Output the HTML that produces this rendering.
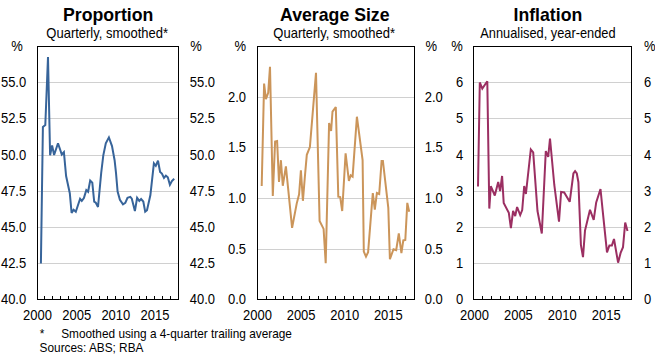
<!DOCTYPE html>
<html><head><meta charset="utf-8"><style>
html,body{margin:0;padding:0;background:#fff;width:655px;height:355px;overflow:hidden}
svg{display:block}
text{font-family:"Liberation Sans",sans-serif;fill:#000}
</style></head><body>
<svg width="655" height="355" viewBox="0 0 655 355">
<g shape-rendering="crispEdges">
<line x1="38" y1="82.5" x2="178" y2="82.5" stroke="#d0d0d0" stroke-width="1"/>
<line x1="38" y1="118.5" x2="178" y2="118.5" stroke="#d0d0d0" stroke-width="1"/>
<line x1="38" y1="155.5" x2="178" y2="155.5" stroke="#d0d0d0" stroke-width="1"/>
<line x1="38" y1="191.5" x2="178" y2="191.5" stroke="#d0d0d0" stroke-width="1"/>
<line x1="38" y1="227.5" x2="178" y2="227.5" stroke="#d0d0d0" stroke-width="1"/>
<line x1="38" y1="263.5" x2="178" y2="263.5" stroke="#d0d0d0" stroke-width="1"/>
<line x1="258" y1="97.5" x2="414" y2="97.5" stroke="#d0d0d0" stroke-width="1"/>
<line x1="258" y1="147.5" x2="414" y2="147.5" stroke="#d0d0d0" stroke-width="1"/>
<line x1="258" y1="198.5" x2="414" y2="198.5" stroke="#d0d0d0" stroke-width="1"/>
<line x1="258" y1="249.5" x2="414" y2="249.5" stroke="#d0d0d0" stroke-width="1"/>
<line x1="474" y1="82.5" x2="631" y2="82.5" stroke="#d0d0d0" stroke-width="1"/>
<line x1="474" y1="118.5" x2="631" y2="118.5" stroke="#d0d0d0" stroke-width="1"/>
<line x1="474" y1="155.5" x2="631" y2="155.5" stroke="#d0d0d0" stroke-width="1"/>
<line x1="474" y1="191.5" x2="631" y2="191.5" stroke="#d0d0d0" stroke-width="1"/>
<line x1="474" y1="227.5" x2="631" y2="227.5" stroke="#d0d0d0" stroke-width="1"/>
<line x1="474" y1="263.5" x2="631" y2="263.5" stroke="#d0d0d0" stroke-width="1"/>
<line x1="44.5" y1="296" x2="44.5" y2="299" stroke="#000" stroke-width="1"/>
<line x1="52.5" y1="296" x2="52.5" y2="299" stroke="#000" stroke-width="1"/>
<line x1="60.5" y1="296" x2="60.5" y2="299" stroke="#000" stroke-width="1"/>
<line x1="68.5" y1="296" x2="68.5" y2="299" stroke="#000" stroke-width="1"/>
<line x1="76.5" y1="296" x2="76.5" y2="299" stroke="#000" stroke-width="1"/>
<line x1="84.5" y1="296" x2="84.5" y2="299" stroke="#000" stroke-width="1"/>
<line x1="91.5" y1="296" x2="91.5" y2="299" stroke="#000" stroke-width="1"/>
<line x1="99.5" y1="296" x2="99.5" y2="299" stroke="#000" stroke-width="1"/>
<line x1="107.5" y1="296" x2="107.5" y2="299" stroke="#000" stroke-width="1"/>
<line x1="115.5" y1="296" x2="115.5" y2="299" stroke="#000" stroke-width="1"/>
<line x1="123.5" y1="296" x2="123.5" y2="299" stroke="#000" stroke-width="1"/>
<line x1="131.5" y1="296" x2="131.5" y2="299" stroke="#000" stroke-width="1"/>
<line x1="139.5" y1="296" x2="139.5" y2="299" stroke="#000" stroke-width="1"/>
<line x1="146.5" y1="296" x2="146.5" y2="299" stroke="#000" stroke-width="1"/>
<line x1="154.5" y1="296" x2="154.5" y2="299" stroke="#000" stroke-width="1"/>
<line x1="162.5" y1="296" x2="162.5" y2="299" stroke="#000" stroke-width="1"/>
<line x1="170.5" y1="296" x2="170.5" y2="299" stroke="#000" stroke-width="1"/>
<rect x="37.5" y="46.5" width="141" height="253" fill="none" stroke="#000" stroke-width="1"/>
<line x1="266.5" y1="296" x2="266.5" y2="299" stroke="#000" stroke-width="1"/>
<line x1="275.5" y1="296" x2="275.5" y2="299" stroke="#000" stroke-width="1"/>
<line x1="283.5" y1="296" x2="283.5" y2="299" stroke="#000" stroke-width="1"/>
<line x1="292.5" y1="296" x2="292.5" y2="299" stroke="#000" stroke-width="1"/>
<line x1="301.5" y1="296" x2="301.5" y2="299" stroke="#000" stroke-width="1"/>
<line x1="309.5" y1="296" x2="309.5" y2="299" stroke="#000" stroke-width="1"/>
<line x1="318.5" y1="296" x2="318.5" y2="299" stroke="#000" stroke-width="1"/>
<line x1="327.5" y1="296" x2="327.5" y2="299" stroke="#000" stroke-width="1"/>
<line x1="335.5" y1="296" x2="335.5" y2="299" stroke="#000" stroke-width="1"/>
<line x1="344.5" y1="296" x2="344.5" y2="299" stroke="#000" stroke-width="1"/>
<line x1="353.5" y1="296" x2="353.5" y2="299" stroke="#000" stroke-width="1"/>
<line x1="362.5" y1="296" x2="362.5" y2="299" stroke="#000" stroke-width="1"/>
<line x1="370.5" y1="296" x2="370.5" y2="299" stroke="#000" stroke-width="1"/>
<line x1="379.5" y1="296" x2="379.5" y2="299" stroke="#000" stroke-width="1"/>
<line x1="388.5" y1="296" x2="388.5" y2="299" stroke="#000" stroke-width="1"/>
<line x1="396.5" y1="296" x2="396.5" y2="299" stroke="#000" stroke-width="1"/>
<line x1="405.5" y1="296" x2="405.5" y2="299" stroke="#000" stroke-width="1"/>
<rect x="257.5" y="46.5" width="157" height="253" fill="none" stroke="#000" stroke-width="1"/>
<line x1="482.5" y1="296" x2="482.5" y2="299" stroke="#000" stroke-width="1"/>
<line x1="491.5" y1="296" x2="491.5" y2="299" stroke="#000" stroke-width="1"/>
<line x1="500.5" y1="296" x2="500.5" y2="299" stroke="#000" stroke-width="1"/>
<line x1="509.5" y1="296" x2="509.5" y2="299" stroke="#000" stroke-width="1"/>
<line x1="517.5" y1="296" x2="517.5" y2="299" stroke="#000" stroke-width="1"/>
<line x1="526.5" y1="296" x2="526.5" y2="299" stroke="#000" stroke-width="1"/>
<line x1="535.5" y1="296" x2="535.5" y2="299" stroke="#000" stroke-width="1"/>
<line x1="544.5" y1="296" x2="544.5" y2="299" stroke="#000" stroke-width="1"/>
<line x1="552.5" y1="296" x2="552.5" y2="299" stroke="#000" stroke-width="1"/>
<line x1="561.5" y1="296" x2="561.5" y2="299" stroke="#000" stroke-width="1"/>
<line x1="570.5" y1="296" x2="570.5" y2="299" stroke="#000" stroke-width="1"/>
<line x1="579.5" y1="296" x2="579.5" y2="299" stroke="#000" stroke-width="1"/>
<line x1="588.5" y1="296" x2="588.5" y2="299" stroke="#000" stroke-width="1"/>
<line x1="596.5" y1="296" x2="596.5" y2="299" stroke="#000" stroke-width="1"/>
<line x1="605.5" y1="296" x2="605.5" y2="299" stroke="#000" stroke-width="1"/>
<line x1="614.5" y1="296" x2="614.5" y2="299" stroke="#000" stroke-width="1"/>
<line x1="623.5" y1="296" x2="623.5" y2="299" stroke="#000" stroke-width="1"/>
<rect x="473.5" y="46.5" width="158" height="253" fill="none" stroke="#000" stroke-width="1"/>
</g>
<polyline points="40.9,263.5 42.9,127.0 45.3,125.0 48.0,57.0 50.1,155.2 52.1,145.4 54.1,155.0 58.0,143.2 61.8,154.5 63.9,152.2 66.1,176.0 69.8,193.2 71.6,212.9 73.6,209.8 75.8,211.8 80.1,198.8 81.8,200.9 83.9,198.1 86.3,190.1 88.1,191.8 90.2,180.6 92.3,182.6 94.2,201.6 95.8,202.7 98.0,207.0 101.2,172.9 103.3,155.3 105.8,143.3 108.9,137.4 112.0,146.1 114.6,160.2 116.0,172.9 117.6,191.5 119.9,199.8 123.0,204.3 125.3,202.9 127.5,197.8 130.3,196.9 131.8,198.7 134.9,211.1 137.1,197.8 139.3,200.9 141.1,199.0 143.3,201.5 145.2,211.7 147.0,210.2 150.4,195.0 153.9,163.4 155.8,165.8 158.0,160.7 160.1,171.9 161.9,173.5 164.0,178.0 165.9,175.7 167.8,177.3 169.9,184.8 171.9,181.0 174.2,178.7" fill="none" stroke="#37649a" stroke-width="2" stroke-linejoin="miter" stroke-miterlimit="3"/>
<polyline points="261.7,186.0 264.1,83.6 265.9,99.1 268.2,92.9 270.0,66.8 272.8,196.0 275.1,141.6 277.1,141.1 279.0,182.0 280.9,160.2 282.8,185.8 285.9,166.4 292.1,227.8 296.7,203.6 299.1,194.3 300.9,170.2 302.9,200.8 304.9,176.4 306.8,154.8 309.9,147.0 316.0,72.8 319.6,221.0 323.6,228.9 325.7,263.2 329.1,123.0 331.1,131.0 332.5,111.6 335.8,107.0 338.3,196.7 340.2,197.0 342.2,211.0 345.6,153.3 348.9,181.0 350.7,175.3 352.6,176.6 356.9,116.7 362.6,160.0 363.8,251.6 366.0,256.6 368.1,252.2 372.8,193.0 374.8,209.7 376.9,193.0 379.2,194.0 381.6,161.0 382.9,161.0 388.3,207.8 389.9,259.1 393.5,249.2 396.2,250.2 398.8,233.5 401.4,253.2 403.3,240.4 405.3,240.0 407.3,202.9 409.2,211.8" fill="none" stroke="#cb955a" stroke-width="2" stroke-linejoin="miter" stroke-miterlimit="3"/>
<polyline points="478.0,186.6 479.8,82.4 482.3,88.6 487.3,81.2 489.3,208.6 490.8,186.2 494.8,195.5 498.2,182.0 500.1,191.0 502.1,176.0 503.7,203.0 508.8,212.7 510.9,228.0 513.1,211.0 515.2,216.0 517.1,207.0 520.2,215.0 522.2,210.0 524.2,186.0 525.9,194.0 530.8,149.5 533.2,152.5 537.5,211.0 541.8,233.5 545.8,151.0 548.2,157.0 550.0,138.5 554.3,185.0 559.0,221.6 561.1,191.9 564.2,192.5 569.7,201.8 573.4,173.5 575.1,171.2 576.8,173.5 578.4,182.2 580.9,244.8 583.0,257.2 585.0,230.6 590.0,209.8 593.7,219.8 596.2,202.4 600.5,189.0 602.6,209.8 607.0,252.3 609.4,245.4 611.9,245.4 614.0,239.0 618.1,262.7 620.6,252.9 623.0,247.2 625.2,222.6 627.5,231.1" fill="none" stroke="#9b2f62" stroke-width="2" stroke-linejoin="miter" stroke-miterlimit="3"/>
<text x="108.2" y="20.6" text-anchor="middle" font-size="17.7" font-weight="bold" >Proportion</text>
<text x="334.8" y="20.6" text-anchor="middle" font-size="17.7" font-weight="bold" >Average Size</text>
<text x="547.9" y="20.6" text-anchor="middle" font-size="17.7" font-weight="bold" >Inflation</text>
<text transform="translate(107.2 37.8) scale(0.935 1)" text-anchor="middle" font-size="13.9" font-weight="normal" >Quarterly, smoothed*</text>
<text transform="translate(334.2 37.8) scale(0.935 1)" text-anchor="middle" font-size="13.9" font-weight="normal" >Quarterly, smoothed*</text>
<text transform="translate(547.9 37.8) scale(0.922 1)" text-anchor="middle" font-size="13.9" font-weight="normal" >Annualised, year-ended</text>
<text transform="translate(26.2 87.2) scale(0.935 1)" text-anchor="end" font-size="13.9" font-weight="normal" >55.0</text>
<text transform="translate(189.7 87.2) scale(0.935 1)" text-anchor="start" font-size="13.9" font-weight="normal" >55.0</text>
<text transform="translate(26.2 123.2) scale(0.935 1)" text-anchor="end" font-size="13.9" font-weight="normal" >52.5</text>
<text transform="translate(189.7 123.2) scale(0.935 1)" text-anchor="start" font-size="13.9" font-weight="normal" >52.5</text>
<text transform="translate(26.2 160.2) scale(0.935 1)" text-anchor="end" font-size="13.9" font-weight="normal" >50.0</text>
<text transform="translate(189.7 160.2) scale(0.935 1)" text-anchor="start" font-size="13.9" font-weight="normal" >50.0</text>
<text transform="translate(26.2 196.2) scale(0.935 1)" text-anchor="end" font-size="13.9" font-weight="normal" >47.5</text>
<text transform="translate(189.7 196.2) scale(0.935 1)" text-anchor="start" font-size="13.9" font-weight="normal" >47.5</text>
<text transform="translate(26.2 232.2) scale(0.935 1)" text-anchor="end" font-size="13.9" font-weight="normal" >45.0</text>
<text transform="translate(189.7 232.2) scale(0.935 1)" text-anchor="start" font-size="13.9" font-weight="normal" >45.0</text>
<text transform="translate(26.2 268.2) scale(0.935 1)" text-anchor="end" font-size="13.9" font-weight="normal" >42.5</text>
<text transform="translate(189.7 268.2) scale(0.935 1)" text-anchor="start" font-size="13.9" font-weight="normal" >42.5</text>
<text transform="translate(26.2 304.2) scale(0.935 1)" text-anchor="end" font-size="13.9" font-weight="normal" >40.0</text>
<text transform="translate(189.7 304.2) scale(0.935 1)" text-anchor="start" font-size="13.9" font-weight="normal" >40.0</text>
<text transform="translate(246 102.2) scale(0.935 1)" text-anchor="end" font-size="13.9" font-weight="normal" >2.0</text>
<text transform="translate(424.8 102.2) scale(0.935 1)" text-anchor="start" font-size="13.9" font-weight="normal" >2.0</text>
<text transform="translate(246 152.2) scale(0.935 1)" text-anchor="end" font-size="13.9" font-weight="normal" >1.5</text>
<text transform="translate(424.8 152.2) scale(0.935 1)" text-anchor="start" font-size="13.9" font-weight="normal" >1.5</text>
<text transform="translate(246 203.2) scale(0.935 1)" text-anchor="end" font-size="13.9" font-weight="normal" >1.0</text>
<text transform="translate(424.8 203.2) scale(0.935 1)" text-anchor="start" font-size="13.9" font-weight="normal" >1.0</text>
<text transform="translate(246 254.2) scale(0.935 1)" text-anchor="end" font-size="13.9" font-weight="normal" >0.5</text>
<text transform="translate(424.8 254.2) scale(0.935 1)" text-anchor="start" font-size="13.9" font-weight="normal" >0.5</text>
<text transform="translate(246 304.2) scale(0.935 1)" text-anchor="end" font-size="13.9" font-weight="normal" >0.0</text>
<text transform="translate(424.8 304.2) scale(0.935 1)" text-anchor="start" font-size="13.9" font-weight="normal" >0.0</text>
<text transform="translate(463.2 87.2) scale(0.935 1)" text-anchor="end" font-size="13.9" font-weight="normal" >6</text>
<text transform="translate(644.1 87.2) scale(0.935 1)" text-anchor="start" font-size="13.9" font-weight="normal" >6</text>
<text transform="translate(463.2 123.2) scale(0.935 1)" text-anchor="end" font-size="13.9" font-weight="normal" >5</text>
<text transform="translate(644.1 123.2) scale(0.935 1)" text-anchor="start" font-size="13.9" font-weight="normal" >5</text>
<text transform="translate(463.2 160.2) scale(0.935 1)" text-anchor="end" font-size="13.9" font-weight="normal" >4</text>
<text transform="translate(644.1 160.2) scale(0.935 1)" text-anchor="start" font-size="13.9" font-weight="normal" >4</text>
<text transform="translate(463.2 196.2) scale(0.935 1)" text-anchor="end" font-size="13.9" font-weight="normal" >3</text>
<text transform="translate(644.1 196.2) scale(0.935 1)" text-anchor="start" font-size="13.9" font-weight="normal" >3</text>
<text transform="translate(463.2 232.2) scale(0.935 1)" text-anchor="end" font-size="13.9" font-weight="normal" >2</text>
<text transform="translate(644.1 232.2) scale(0.935 1)" text-anchor="start" font-size="13.9" font-weight="normal" >2</text>
<text transform="translate(463.2 268.2) scale(0.935 1)" text-anchor="end" font-size="13.9" font-weight="normal" >1</text>
<text transform="translate(644.1 268.2) scale(0.935 1)" text-anchor="start" font-size="13.9" font-weight="normal" >1</text>
<text transform="translate(463.2 304.2) scale(0.935 1)" text-anchor="end" font-size="13.9" font-weight="normal" >0</text>
<text transform="translate(644.1 304.2) scale(0.935 1)" text-anchor="start" font-size="13.9" font-weight="normal" >0</text>
<text transform="translate(11.3 50.8) scale(0.935 1)" text-anchor="start" font-size="13.9" font-weight="normal" >%</text>
<text transform="translate(190.3 50.8) scale(0.935 1)" text-anchor="start" font-size="13.9" font-weight="normal" >%</text>
<text transform="translate(234.4 50.8) scale(0.935 1)" text-anchor="start" font-size="13.9" font-weight="normal" >%</text>
<text transform="translate(425.4 50.8) scale(0.935 1)" text-anchor="start" font-size="13.9" font-weight="normal" >%</text>
<text transform="translate(451.3 50.8) scale(0.935 1)" text-anchor="start" font-size="13.9" font-weight="normal" >%</text>
<text transform="translate(644.1 50.8) scale(0.935 1)" text-anchor="start" font-size="13.9" font-weight="normal" >%</text>
<text transform="translate(37.5 319.7) scale(0.935 1)" text-anchor="middle" font-size="13.9" font-weight="normal" >2000</text>
<text transform="translate(76.66666666666666 319.7) scale(0.935 1)" text-anchor="middle" font-size="13.9" font-weight="normal" >2005</text>
<text transform="translate(115.83333333333333 319.7) scale(0.935 1)" text-anchor="middle" font-size="13.9" font-weight="normal" >2010</text>
<text transform="translate(155.0 319.7) scale(0.935 1)" text-anchor="middle" font-size="13.9" font-weight="normal" >2015</text>
<text transform="translate(257.5 319.7) scale(0.935 1)" text-anchor="middle" font-size="13.9" font-weight="normal" >2000</text>
<text transform="translate(301.1111111111111 319.7) scale(0.935 1)" text-anchor="middle" font-size="13.9" font-weight="normal" >2005</text>
<text transform="translate(344.72222222222223 319.7) scale(0.935 1)" text-anchor="middle" font-size="13.9" font-weight="normal" >2010</text>
<text transform="translate(388.3333333333333 319.7) scale(0.935 1)" text-anchor="middle" font-size="13.9" font-weight="normal" >2015</text>
<text transform="translate(474.5 319.7) scale(0.935 1)" text-anchor="middle" font-size="13.9" font-weight="normal" >2000</text>
<text transform="translate(518.3888888888889 319.7) scale(0.935 1)" text-anchor="middle" font-size="13.9" font-weight="normal" >2005</text>
<text transform="translate(562.2777777777778 319.7) scale(0.935 1)" text-anchor="middle" font-size="13.9" font-weight="normal" >2010</text>
<text transform="translate(606.1666666666667 319.7) scale(0.935 1)" text-anchor="middle" font-size="13.9" font-weight="normal" >2015</text>
<text transform="translate(39.8 338.2) scale(0.986 1)" text-anchor="start" font-size="12" font-weight="normal" >*</text>
<text transform="translate(61.2 338.2) scale(0.986 1)" text-anchor="start" font-size="12" font-weight="normal" >Smoothed using a 4-quarter trailing average</text>
<text transform="translate(39.6 351.6) scale(0.986 1)" text-anchor="start" font-size="12" font-weight="normal" >Sources: ABS; RBA</text>
</svg>
</body></html>
